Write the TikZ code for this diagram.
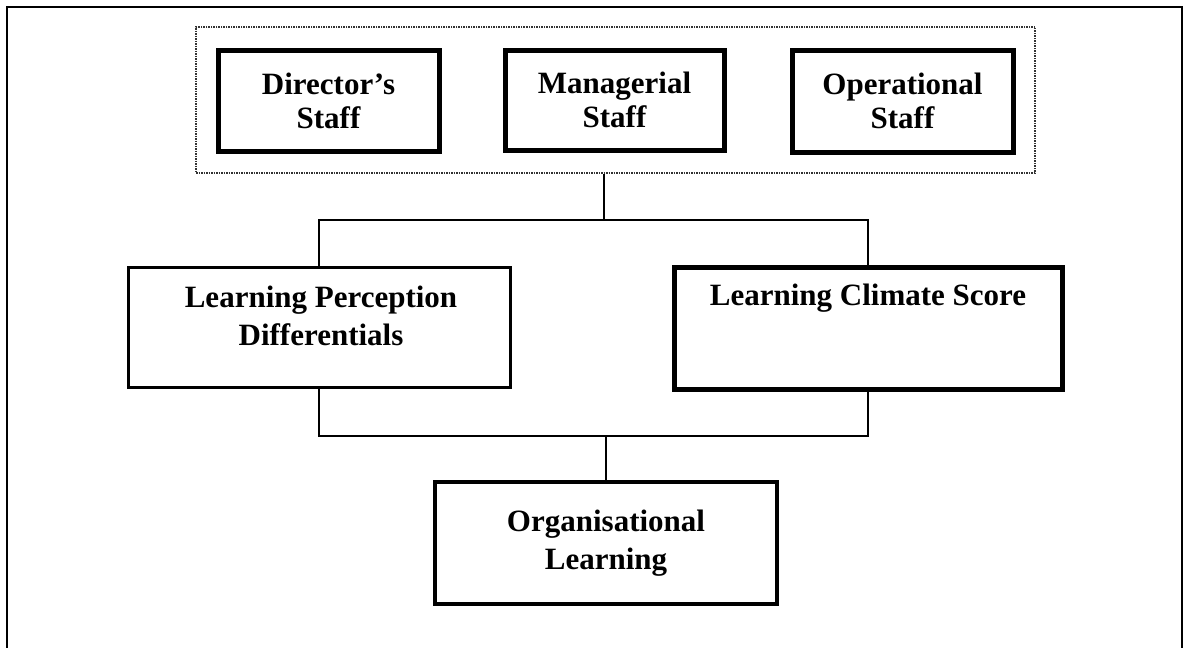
\documentclass[tikz,border=0pt]{standalone}
\usepackage{fontspec}
\setmainfont{Liberation Serif}
\begin{document}
\begin{tikzpicture}[x=1pt,y=-1pt,
  box/.style={draw=black, rectangle, inner sep=0pt, align=center,
    font=\fontsize{31}{34}\selectfont\bfseries},
  thick box/.style={box, line width=5pt},
  thin box/.style={box, line width=3pt},
  lbl/.style={inner sep=0pt, align=center, font=\fontsize{31}{38}\selectfont\bfseries},
  conn/.style={draw=black, line width=1.6pt}]
\useasboundingbox (0,0) rectangle (1187,648);
\fill[white] (0,0) rectangle (1187,648);
% outer frame (open at the bottom)
\draw[line width=2.6pt] (7,650) -- (7,7) -- (1182,7) -- (1182,650);
% dotted group
\node[draw=black!80, densely dotted, line width=1.5pt, rectangle, inner sep=0pt,
  minimum width=839pt, minimum height=146pt] (grp) at (615.5,100) {};
\node[thick box, minimum width=221pt, minimum height=101pt] (dir) at (328.5,100.5) {Director's\\Staff};
\node[thick box, minimum width=219pt, minimum height=100pt] (man) at (614.5,100) {Managerial\\Staff};
\node[thick box, minimum width=221pt, minimum height=102pt] (op) at (902.5,101) {Operational\\Staff};
% middle boxes
\node[thin box, minimum width=382pt, minimum height=120pt] (lpd) at (319,327) {};
\node[lbl] (lpdt) at (321,316) {Learning Perception\\Differentials};
\node[thick box, minimum width=388pt, minimum height=122pt] (lcs) at (868,328) {};
\node[lbl] (lcst) at (868,298) {Learning Climate Score};
% bottom box
\node[box, line width=4pt, minimum width=342pt, minimum height=122pt,
  font=\fontsize{31}{38}\selectfont\bfseries] (ol) at (606,543) {Organisational\\Learning};
% connectors
\coordinate (j1) at (604,220);
\coordinate (j2) at (606,436);
\draw[conn] (j1 |- grp.south) -- (j1);
\draw[conn] (lpd.north) |- (j1) -| (lcs.north);
\draw[conn] (lpd.south) |- (j2) -| (lcs.south);
\draw[conn] (j2) -- (ol.north);
\end{tikzpicture}
\end{document}
